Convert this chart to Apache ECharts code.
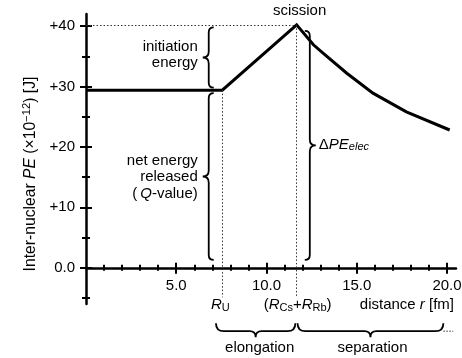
<!DOCTYPE html>
<html><head><meta charset="utf-8">
<script src="https://cdn.jsdelivr.net/npm/echarts@6/dist/echarts.min.js"></script>
<style>html,body{margin:0;padding:0;background:#fff}#c{width:462px;height:358px}</style>
</head><body><div id="c"></div>
<script>
// ---- data ----
const distance = [0, 7.55, 11.67, 12.6, 13.15, 14.45, 15.9, 17.75, 20.15];   // r [fm]
const energy   = [29.4, 29.4, 40.2, 36.9, 35.5, 32.2, 28.9, 25.8, 22.8];      // PE (x1e-12 J)
const xMajorTicks = [5, 10, 15, 20];
const xTickLabels = ['5.0', '10.0', '15.0', '20.0'];
const xMinorTicks = [1, 2, 3, 4, 6, 7, 8, 9, 11, 12, 13, 14, 16, 17, 18, 19];
const yMajorTicks = [0, 10, 20, 30, 40];
const yTickLabels = ['0.0', '+10', '+20', '+30', '+40'];
const yMinorTicks = [-5, 5, 15, 25, 35];

// derived key points
const rU = distance[1], rSc = distance[2], qLevel = energy[0], peak = energy[2];
const xMin = 0, xMax = 20.5, yMin = -6, yMax = 42;

// ---- annotation geometry (in data units) ----
const braces = [
  {kind: 'v', x: 6.8, y0: 39.8, y1: 29.8, dir: -1},   // initiation energy
  {kind: 'v', x: 6.8, y0: 28.9, y1: 1.3, dir: -1},    // Q-value
  {kind: 'v', x: 12.4, y0: 39.2, y1: 1.3, dir: 1},    // delta PE elec
  {kind: 'h', y: -10.5, x0: 7.2, x1: 11.6},           // elongation
  {kind: 'h', y: -10.5, x0: 11.72, x1: 19.8},         // separation
  {kind: 'd', y: -10.5, x0: 19.8, x1: 20.35}          // dotted continuation
];

const F = "'Liberation Sans', Arial, Helvetica, sans-serif";
const FS = 15;
const rich = {
  i:  {fontStyle: 'italic', fontSize: FS, fontFamily: F, fill: '#000', lineHeight: 16.5},
  s:  {fontSize: 11, fontFamily: F, fill: '#000', verticalAlign: 'bottom', lineHeight: 7},
  si: {fontSize: 11, fontStyle: 'italic', fontFamily: F, fill: '#000', verticalAlign: 'bottom', lineHeight: 7}
};
const labels = [
  {at: [rSc, peak], dx: 3, dy: -14, align: 'center', text: 'scission'},
  {at: [6.8, 34.8], dx: -11, dy: -2.5, align: 'right', text: 'initiation\nenergy'},
  {at: [6.8, 15.1], dx: -11, dy: 0.5, align: 'right', text: 'net energy\nreleased\n(\u2009{i|Q}-value)'},
  {at: [12.4, 20.25], dx: 9, dy: -1, align: 'left', text: '\u0394{i|PE}{si|elec}'},
  {at: [rU, 0], dx: -2, dy: 37, align: 'center', text: '{i|R}{s|U}'},
  {at: [rSc, 0], dx: 1, dy: 37, align: 'center', text: '({i|R}{s|Cs}+{i|R}{s|Rb})'},
  {at: [xMax, 0], dx: -2, dy: 37, align: 'right', text: 'distance {i|r} [fm]'},
  {at: [9.4, -10.5], dx: 4, dy: 17, align: 'center', text: 'elongation'},
  {at: [15.76, -10.5], dx: 2, dy: 17, align: 'center', text: 'separation'}
];

function vBracePath(x, ya, yb, d, hk, nb) {
  const ym = (ya + yb) / 2;
  return `M${x - d * hk},${ya} Q${x},${ya} ${x},${ya + hk} L${x},${ym - nb} Q${x},${ym} ${x + d * nb},${ym} ` +
         `Q${x},${ym} ${x},${ym + nb} L${x},${yb - hk} Q${x},${yb} ${x - d * hk},${yb}`;
}
function hBracePath(y, xa, xb, hk, nb) {
  const xm = (xa + xb) / 2;
  return `M${xa},${y - hk} Q${xa},${y} ${xa + hk},${y} L${xm - nb},${y} Q${xm},${y} ${xm},${y + nb} ` +
         `Q${xm},${y} ${xm + nb},${y} L${xb - hk},${y} Q${xb},${y} ${xb},${y - hk}`;
}

// grid layout (pixels)
const G = {left: 86, top: 14, width: 370, height: 290};
// x axes sit on the y = 0 line: shift them up from the grid bottom by the scale's position of 0
const xAxisOffset = -((0 - yMin) / (yMax - yMin)) * G.height;

const black = '#000';
function xAx(values, inside, len, withLine, withLabels) {
  return {
    type: 'value', min: xMin, max: xMax, position: 'bottom', offset: xAxisOffset,
    axisLine: {show: withLine, onZero: false, lineStyle: {color: black, width: 2.5}},
    axisTick: {show: true, customValues: values, inside: inside, length: len, lineStyle: {color: black, width: 2}},
    axisLabel: {show: withLabels, customValues: values, margin: 11, color: black, fontSize: FS, fontFamily: F,
      formatter: v => xTickLabels[xMajorTicks.indexOf(v)]},
    splitLine: {show: false}, minorTick: {show: false}
  };
}
function yAx(values, inside, len, withLine, withLabels, extra) {
  return Object.assign({
    type: 'value', min: yMin, max: yMax, position: 'left',
    axisLine: {show: withLine, onZero: false, lineStyle: {color: black, width: 2.5}},
    axisTick: {show: true, customValues: values, inside: inside, length: len, lineStyle: {color: black, width: 2}},
    axisLabel: {show: withLabels, customValues: values, margin: 11, color: black, fontSize: FS, fontFamily: F,
      formatter: v => yTickLabels[yMajorTicks.indexOf(v)]},
    splitLine: {show: false}, minorTick: {show: false}
  }, extra || {});
}

const chart = echarts.init(document.getElementById('c'), null, {renderer: 'canvas', width: 462, height: 358});
chart.setOption({
  animation: false,
  backgroundColor: '#fff',
  grid: Object.assign({containLabel: false, outerBoundsMode: 'none'}, G),
  xAxis: [
    xAx(xMajorTicks, false, 6, true, true),
    xAx(xMajorTicks, true, 5, false, false),
    xAx(xMinorTicks, false, 3, false, false),
    xAx(xMinorTicks, true, 3, false, false)
  ],
  yAxis: [
    yAx(yMajorTicks, false, 6, true, true, {
      name: '{n|Inter-nuclear }{i|PE}{n| (\u00d710}{s|\u221212}{n|) [J]}',
      nameLocation: 'middle', nameGap: 46,
      nameTextStyle: {padding: [0, 30, 0, 0], rich: {
        n: {fontSize: 15.7, fontFamily: F, color: black, lineHeight: 19},
        i: {fontSize: 15.7, fontFamily: F, fontStyle: 'italic', color: black, lineHeight: 19},
        s: {fontSize: 11.3, fontFamily: F, color: black, verticalAlign: 'top', lineHeight: 8}
      }}
    }),
    yAx(yMajorTicks, true, 6, false, false),
    yAx(yMinorTicks, false, 4, false, false),
    yAx(yMinorTicks, true, 4, false, false)
  ],
  series: [
    {
      type: 'line', name: 'PE', xAxisIndex: 0, yAxisIndex: 0,
      data: distance.map((d, i) => [d, energy[i]]),
      symbol: 'none', smooth: false, silent: true,
      lineStyle: {color: black, width: 3, join: 'miter'},
      markLine: {
        silent: true, symbol: ['none', 'none'], label: {show: false},
        lineStyle: {type: [1.5, 2], width: 1, color: '#333'},
        data: [
          [{coord: [xMin, peak]}, {coord: [rSc, peak]}],
          [{coord: [rU, qLevel]}, {coord: [rU, -4.9]}],
          [{coord: [rSc, peak]}, {coord: [rSc, -4.9]}]
        ]
      },
      z: 3
    },
    {
      type: 'custom', name: 'braces', coordinateSystem: 'cartesian2d', clip: false, silent: true,
      data: braces.map(b => b.kind === 'v' ? [b.x, b.y0] : [b.x0, b.y]),
      renderItem: function (params, api) {
        const b = braces[params.dataIndex];
        if (b.kind === 'v') {
          const p0 = api.coord([b.x, b.y0]), p1 = api.coord([b.x, b.y1]);
          return {type: 'path', shape: {pathData: vBracePath(p0[0], p0[1], p1[1], b.dir, 5, 6)},
            style: {stroke: black, fill: 'none', lineWidth: 1.8}};
        }
        const p0 = api.coord([b.x0, b.y]), p1 = api.coord([b.x1, b.y]);
        if (b.kind === 'h') {
          return {type: 'path', shape: {pathData: hBracePath(p0[1], p0[0], p1[0], 8, 6)},
            style: {stroke: black, fill: 'none', lineWidth: 1.8}};
        }
        return {type: 'line', shape: {x1: p0[0], y1: p0[1], x2: p1[0], y2: p1[1]},
          style: {stroke: '#333', lineWidth: 1, lineDash: [1.5, 1.5]}};
      },
      z: 4
    },
    {
      type: 'custom', name: 'labels', coordinateSystem: 'cartesian2d', clip: false, silent: true,
      data: labels.map(l => l.at),
      renderItem: function (params, api) {
        const l = labels[params.dataIndex];
        const p = api.coord(l.at);
        return {type: 'text', x: p[0] + l.dx, y: p[1] + l.dy,
          style: {text: l.text, align: l.align, verticalAlign: 'middle', fontSize: FS, fontFamily: F,
            fill: black, lineHeight: 16.5, rich: rich}};
      },
      z: 5
    }
  ]
});
</script></body></html>
